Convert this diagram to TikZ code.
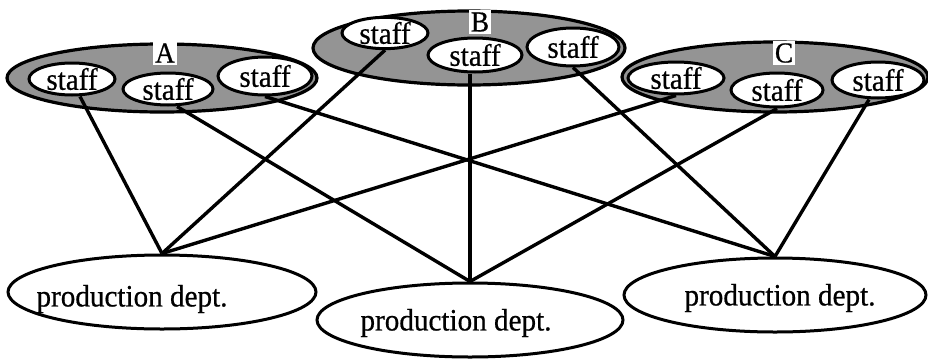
\documentclass[tikz,border=0pt]{standalone}
\usepackage{fontspec}
\setmainfont{Liberation Serif}
\newfontfamily\labelfont[FakeStretch=0.94,FakeBold=0.6]{Liberation Serif}
\usetikzlibrary{shapes.geometric}
\begin{document}
\begin{tikzpicture}[x=1pt,y=-1pt,
  grp/.style={ellipse, draw, line width=3.2pt, fill=black!42, inner sep=0pt},
  staffbox/.style={ellipse, draw, line width=3pt, fill=white, inner sep=0pt,
    font=\labelfont\fontsize{31}{32}\selectfont},
  dept/.style={ellipse, draw, line width=3pt, inner sep=0pt},
  depttext/.style={inner sep=0pt, font=\labelfont\fontsize{31}{33}\selectfont},
  tag/.style={fill=white, inner sep=2pt, font=\labelfont\fontsize{29}{30}\selectfont},
  link/.style={line width=3.4pt}]
\useasboundingbox (0,0) rectangle (928,359);

% groups of staff
\node[grp, minimum width=310pt, minimum height=68pt] (GA) at (162,78) {};
\node[grp, minimum width=306pt, minimum height=70pt] (GC) at (775,77) {};
\node[grp, minimum width=312pt, minimum height=74pt] (GB) at (469,48) {};

\node[tag] (LA) at (165,53) {A};
\node[tag] (LB) at (480,22) {B};
\node[tag] (LC) at (784,53) {C};

% staff members
\node[staffbox, minimum width=86pt, minimum height=32pt] (A1) at (72,79) {staff};
\node[staffbox, minimum width=90pt, minimum height=32pt] (A2) at (168,89) {staff};
\node[staffbox, minimum width=94pt, minimum height=38pt] (A3) at (265,76) {staff};

\node[staffbox, minimum width=86pt, minimum height=28pt] (B1) at (385,33) {staff};
\node[staffbox, minimum width=94pt, minimum height=34pt] (B2) at (475,55) {staff};
\node[staffbox, minimum width=92pt, minimum height=38pt] (B3) at (573,47) {staff};

\node[staffbox, minimum width=96pt, minimum height=32pt] (C1) at (676,78) {staff};
\node[staffbox, minimum width=92pt, minimum height=34pt] (C2) at (777,90) {staff};
\node[staffbox, minimum width=92pt, minimum height=36pt] (C3) at (878,80) {staff};

% production departments
\node[dept, minimum width=308pt, minimum height=74pt] (P1) at (162,292) {};
\node[dept, minimum width=306pt, minimum height=74pt] (P2) at (470,320) {};
\node[dept, minimum width=302pt, minimum height=74pt] (P3) at (775,295) {};

\node[depttext] (T1) at (132,299) {production dept.};
\node[depttext] (T2) at (456,323) {production dept.};
\node[depttext] (T3) at (780,298) {production dept.};

% each group sends one staff member to each department
\draw[link] ([xshift=8pt]A1.south) -- (P1.north);
\draw[link] (B1.south) -- (P1.north);
\draw[link] (C1.south) -- (P1.north);

\draw[link] ([xshift=9pt]A2.south) -- (P2.north);
\draw[link] ([xshift=-5pt]B2.south) -- (P2.north);
\draw[link] (C2.south) -- (P2.north);

\draw[link] (A3.south) -- (P3.north);
\draw[link] (B3.south) -- (P3.north);
\draw[link] ([xshift=-9pt]C3.south) -- (P3.north);
\end{tikzpicture}
\end{document}
